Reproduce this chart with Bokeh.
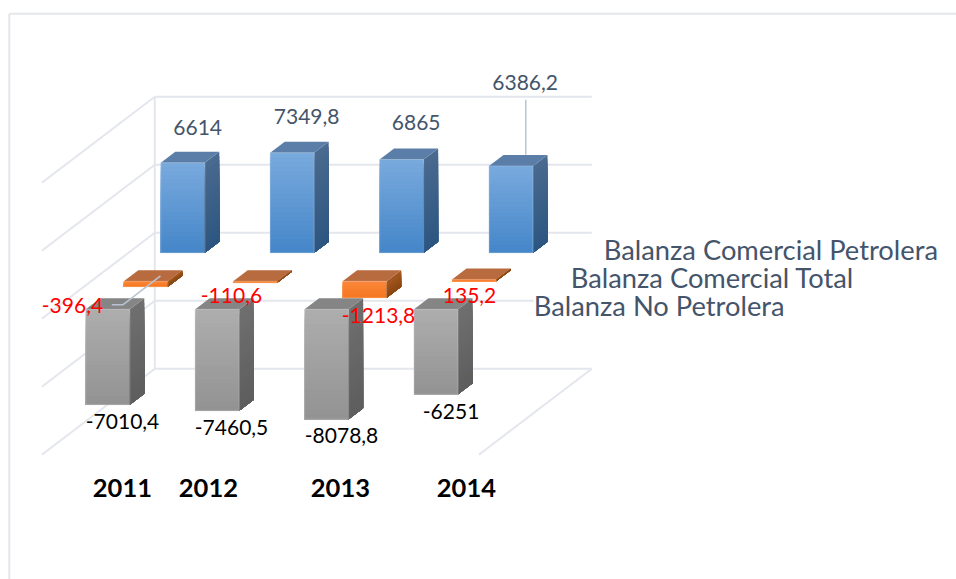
from bokeh.plotting import figure
from bokeh.models import Range1d
from bokeh.embed import file_html
from bokeh.resources import INLINE
from bokeh.core.properties import value

# ---------- data ----------
years = ["2011", "2012", "2013", "2014"]
petrolera = [6614, 7349.8, 6865, 6386.2]
total = [-396.4, -110.6, -1213.8, 135.2]
no_petrolera = [-7010.4, -7460.5, -8078.8, -6251]
petrolera_labels = ["6614", "7349,8", "6865", "6386,2"]
total_labels = ["-396,4", "-110,6", "-1213,8", "135,2"]
no_petrolera_labels = ["-7010,4", "-7460,5", "-8078,8", "-6251"]
legend_names = ["Balanza Comercial Petrolera", "Balanza Comercial Total", "Balanza No Petrolera"]
grid_values = [-15000, -10000, -5000, 0, 5000]

# ---------- layout (page pixels) ----------
W, H = 956, 579
ORIGIN_X, ORIGIN_Y = 0.7, 0.7
CAT_PX, UNIT_PX = 109.4, 0.0136
X0_PX, BASE_BLUE_PX, BASE_ORANGE_PX, BASE_GREY_PX = 161.0, 253.0, 281.5, 309.5
BAR_PX, DEPTH_X, DEPTH_Y = 44.0, 14.5, 11.0
SERIES_SHIFT = {"blue": 0.0, "orange": -37.0, "grey": -75.0}
LBL_FONT = value("Lato")


def ux(px):
    return (px - X0_PX) / CAT_PX


def uy(py):
    return (BASE_BLUE_PX - py) / UNIT_PX


p = figure(width=W, height=H, output_backend="svg", toolbar_location=None,
           x_axis_type=None, y_axis_type=None, min_border=0,
           x_range=Range1d(ux(ORIGIN_X), ux(ORIGIN_X + W)), y_range=Range1d(uy(ORIGIN_Y + H), uy(ORIGIN_Y)))
p.grid.visible = False
p.outline_line_color = None
p.background_fill_color = "white"
p.border_fill_color = "white"

# chart frame
FRAME = "#e4e6ea"
p.line([ux(9.5), ux(9.5)], [uy(580), uy(14)], line_color=FRAME, line_width=2)
p.line([ux(9.5), ux(957)], [uy(14), uy(14)], line_color=FRAME, line_width=2)

# 3D walls: grid rows are value levels on the back wall
WALL_L, WALL_R = 155.0, 592.0
SIDE_DX, SIDE_DY = -113.0, 86.0
GRID = "#e3e6ed"
for g in grid_values:
    gy = uy(165) + g
    p.line([ux(WALL_L), ux(WALL_R)], [gy, gy], line_color=GRID, line_width=2)
    p.line([ux(WALL_L), ux(WALL_L + SIDE_DX)], [gy, gy - SIDE_DY / UNIT_PX], line_color=GRID, line_width=2)
bottom_y = uy(165) + min(grid_values)
top_y = uy(165) + max(grid_values)
p.line([ux(WALL_L), ux(WALL_L)], [bottom_y, top_y], line_color=GRID, line_width=2)
p.line([ux(WALL_R), ux(WALL_R + SIDE_DX)], [bottom_y, bottom_y - SIDE_DY / UNIT_PX], line_color=GRID, line_width=2)
# white box that hides the wall row under the legend
p.quad(left=ux(534), right=ux(600), top=uy(292), bottom=uy(320), fill_color="white", line_color=None)


def hex2rgb(c):
    return [int(c[i:i + 2], 16) for i in (1, 3, 5)]


def mix(a, b, t):
    ra, rb = hex2rgb(a), hex2rgb(b)
    return "#%02x%02x%02x" % tuple(round(x + (y - x) * t) for x, y in zip(ra, rb))


def draw_series(values, base_px, x_shift_px, front, side, top_col, edge):
    base = uy(base_px)
    dx, dy = DEPTH_X / CAT_PX, DEPTH_Y / UNIT_PX
    w = BAR_PX / CAT_PX
    sx = x_shift_px / CAT_PX
    xs_f, ys_f, cf, xs_s, ys_s, cs, xs_t, ys_t = [], [], [], [], [], [], [], []
    outline_x, outline_y = [], []
    for i, v in enumerate(values):
        a = base + max(v, 0)
        b = base + min(v, 0)
        l, r = i + sx, i + sx + w
        N = 22
        for k in range(N):
            t = k / N
            yk = a + (b - a) * t
            xs_f.append([l, r, r, l])
            ys_f.append([yk, yk, b, b])
            cf.append(mix(front[0], front[1], t))
            xs_s.append([r, r + dx, r + dx, r])
            ys_s.append([yk, yk + dy, b + dy, b])
            cs.append(mix(side[0], side[1], t))
        xs_t.append([l, r, r + dx, l + dx])
        ys_t.append([a, a, a + dy, a + dy])
        outline_x.append([l, r, r, l])
        outline_y.append([a, a, b, b])
    p.patches(xs_f, ys_f, fill_color=cf, line_color=None)
    p.patches(xs_s, ys_s, fill_color=cs, line_color=None)
    p.patches(xs_t, ys_t, fill_color=top_col, line_color=None)
    p.patches(outline_x, outline_y, fill_color=None, line_color=edge, line_width=0.8, line_alpha=0.6)


draw_series(petrolera, BASE_BLUE_PX, SERIES_SHIFT["blue"], ("#78a9dd", "#4385c8"), ("#4a6a8f", "#2b5580"), "#5a7ea8", "#a9c6e6")
draw_series(total, BASE_ORANGE_PX, SERIES_SHIFT["orange"], ("#fb873a", "#f5761f"), ("#a55a22", "#8a4510"), "#b86b3e", "#fbb98a")
draw_series(no_petrolera, BASE_GREY_PX, SERIES_SHIFT["grey"], ("#adadad", "#929292"), ("#6f6f6f", "#5d5d5d"), "#858585", "#c4c4c4")

# leader lines
LEAD = "#b8c4d4"
p.line([ux(526), ux(526)], [uy(100), uy(155)], line_color=LEAD, line_width=1.5)
p.line([ux(112), ux(123), ux(160.7)], [uy(305), uy(305), uy(276)], line_color=LEAD, line_width=1.5)


def labels(texts, lefts, mids, color, size, style="normal"):
    p.text(x=[ux(a) for a in lefts], y=[uy(b) for b in mids], text=texts,
           text_color=color, text_font=LBL_FONT, text_font_size=size,
           text_font_style=style, text_align="left", text_baseline="middle")


labels(petrolera_labels, [173.5, 274, 392, 492.5], [128, 117, 123, 83], "#44546a", "21px")
labels(no_petrolera_labels, [86, 195, 305, 423], [422, 428, 436, 412], "#000000", "21px")
labels(total_labels, [42, 201, 342, 443], [306, 296, 316, 296], "#ff0000", "21px")
labels(years, [93, 179, 311, 437], [488, 488, 488, 488], "#000000", "25.5px", "bold")
labels(legend_names, [604, 571, 534], [250, 278, 306], "#44546a", "27.3px")

open("out.html", "w").write(file_html(p, INLINE))
